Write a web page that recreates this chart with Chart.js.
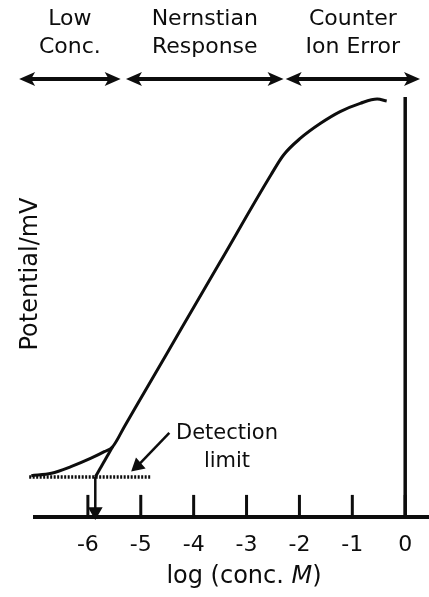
<!DOCTYPE html>
<html>
<head>
<meta charset="utf-8">
<script src="https://cdn.jsdelivr.net/npm/chart.js@4"></script>
<style>
  html, body { margin: 0; padding: 0; background: #fff; }
  canvas { display: block; }
</style>
</head>
<body>
<canvas id="myChart" width="429" height="597"></canvas>
<script>
// electrode response, potential in mV vs log concentration
const tickVals = [-6, -5, -4, -3, -2, -1, 0];
const curveX = [-7.07, -6.69, -6.32, -5.94, -5.69, -5.53, -5.3, -4.5, -3.5, -2.54, -2.30, -1.98, -1.60, -1.23, -0.85, -0.53, -0.35];
const curveY = [26.8, 28.4, 32.7, 38.2, 42.4, 45.7, 59.3, 106.6, 165.7, 222.3, 235.3, 246.2, 255.9, 263.5, 268.9, 271.7, 270.4];
const extrapX = [-5.53, -5.86];
const extrapY = [45.7, 26];
const limitX = [-7.11, -4.81];
const limitY = [26, 26];
const dropX = [-5.86, -5.86];
const dropY = [26, 3.5];
const edgeX = [0, 0];
const edgeY = [0, 273];
const pointerX = [-4.46, -5.06];
const pointerY = [54.6, 33.2];
const regionFrom = [-7.30, -5.28, -2.26];
const regionTo = [-5.38, -2.30, 0.28];
const regionTop = ['Low', 'Nernstian', 'Counter'];
const regionBottom = ['Conc.', 'Response', 'Ion Error'];

const ink = '#0d0d0d';
const font = '"DejaVu Sans", sans-serif';

function pts(xs, ys) {
  return xs.map((v, i) => ({ x: v, y: ys[i] }));
}

function head(ctx, tx, ty, dir) {
  ctx.beginPath();
  ctx.moveTo(tx, ty);
  ctx.lineTo(tx - dir * 16, ty - 7);
  ctx.lineTo(tx - dir * 12, ty);
  ctx.lineTo(tx - dir * 16, ty + 7);
  ctx.closePath();
  ctx.fill();
}

const notes = {
  id: 'notes',
  afterDraw(chart) {
    const { ctx, scales: { x }, chartArea } = chart;
    ctx.save();
    ctx.fillStyle = ink;
    ctx.strokeStyle = ink;

    // tick marks standing up from the axis
    ctx.lineWidth = 3;
    tickVals.forEach(v => {
      const px = x.getPixelForValue(v);
      ctx.beginPath();
      ctx.moveTo(px, chartArea.bottom);
      ctx.lineTo(px, chartArea.bottom - 22);
      ctx.stroke();
    });

    ctx.textAlign = 'center';
    ctx.textBaseline = 'middle';
    ctx.font = '22px ' + font;

    const ay = 79;
    regionFrom.forEach((a, i) => {
      const x1 = x.getPixelForValue(a);
      const x2 = x.getPixelForValue(regionTo[i]);
      ctx.lineWidth = 4;
      ctx.beginPath();
      ctx.moveTo(x1 + 10, ay);
      ctx.lineTo(x2 - 10, ay);
      ctx.stroke();
      head(ctx, x1, ay, -1);
      head(ctx, x2, ay, 1);
      const mid = (x1 + x2) / 2;
      ctx.fillText(regionTop[i], mid, 19);
      ctx.fillText(regionBottom[i], mid, 47);
    });

    // detection limit label
    ctx.font = '21px ' + font;
    ctx.fillText('Detection', 227, 434);
    ctx.fillText('limit', 227, 462);

    // y title
    ctx.save();
    ctx.translate(31, 274);
    ctx.rotate(-Math.PI / 2);
    ctx.font = '24px ' + font;
    ctx.fillText('Potential/mV', 0, 0);
    ctx.restore();

    // x title with italic M
    const a = 'log (conc. ', m = 'M', b = ')';
    ctx.font = '24px ' + font;
    const wa = ctx.measureText(a).width, wb = ctx.measureText(b).width;
    ctx.font = 'italic 24px ' + font;
    const wm = ctx.measureText(m).width;
    const sx = 244 - (wa + wm + wb) / 2;
    const ty = 577;
    ctx.textAlign = 'left';
    ctx.font = '24px ' + font;
    ctx.fillText(a, sx, ty);
    ctx.font = 'italic 24px ' + font;
    ctx.fillText(m, sx + wa, ty);
    ctx.font = '24px ' + font;
    ctx.fillText(b, sx + wa + wm, ty);
    ctx.restore();
  }
};

const line = (xs, ys, extra) => Object.assign({
  data: pts(xs, ys),
  borderColor: ink,
  borderWidth: 3,
  pointRadius: 0,
  fill: false,
  clip: false
}, extra);

new Chart(document.getElementById('myChart'), {
  type: 'line',
  data: {
    datasets: [
      line(curveX, curveY, { cubicInterpolationMode: 'monotone' }),
      line(extrapX, extrapY),
      line(limitX, limitY, { borderDash: [2, 1.5], borderWidth: 3.5 }),
      line(dropX, dropY, {
        borderWidth: 2.5,
        pointRadius: [0, 6],
        pointStyle: 'triangle',
        rotation: 180,
        pointBackgroundColor: ink,
        pointBorderColor: ink
      }),
      line(edgeX, edgeY, { borderWidth: 3.5 }),
      line(pointerX, pointerY, {
        borderWidth: 2.5,
        pointRadius: [0, 6],
        pointStyle: 'triangle',
        rotation: 229,
        pointBackgroundColor: ink,
        pointBorderColor: ink
      })
    ]
  },
  options: {
    responsive: false,
    animation: false,
    devicePixelRatio: 1,
    layout: { autoPadding: false, padding: { top: 95, left: 35, right: 0, bottom: 24 } },
    plugins: {
      legend: { display: false },
      tooltip: { enabled: false }
    },
    scales: {
      x: {
        type: 'linear',
        min: -7,
        max: 0.45,
        afterBuildTicks: (s) => { s.ticks = tickVals.map(v => ({ value: v })); },
        grid: { drawOnChartArea: false, drawTicks: false },
        border: { width: 4, color: ink },
        ticks: {
          padding: 0,
          color: ink,
          font: { family: 'DejaVu Sans', size: 22, lineHeight: 2.55 },
          callback: (v) => String(v)
        }
      },
      y: { display: false, min: 0, max: 274.3 }
    }
  },
  plugins: [notes]
});
</script>
</body>
</html>
